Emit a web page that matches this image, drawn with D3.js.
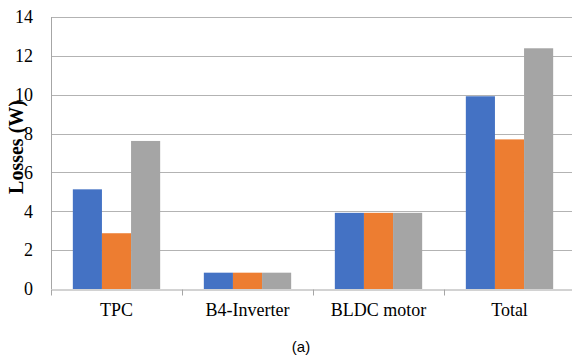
<!DOCTYPE html>
<html>
<head>
<meta charset="utf-8">
<script src="https://cdn.jsdelivr.net/npm/d3@7"></script>
<style>
  body { margin: 0; background: #fff; }
  svg { display: block; }
  .serif { font-family: "Liberation Serif", "Times New Roman", "DejaVu Serif", serif; }
</style>
</head>
<body>
<div id="chart"></div>
<script>
// data
const categories = ["TPC", "B4-Inverter", "BLDC motor", "Total"]
const seriesA = [5.13, 0.84, 3.92, 9.92]
const seriesB = [2.87, 0.84, 3.92, 7.70]
const seriesC = [7.62, 0.84, 3.92, 12.39]
const yTicks = [0, 2, 4, 6, 8, 10, 12, 14]
const colors = ["#4472C4", "#ED7D31", "#A5A5A5"]

const series = [seriesA, seriesB, seriesC]

const dims = {
    width: 572,
    height: 364,
    margin: { top: 17, right: -3, bottom: 75, left: 51 }
}
dims.boundedWidth = dims.width - dims.margin.left - dims.margin.right
dims.boundedHeight = dims.height - dims.margin.top - dims.margin.bottom

const svg = d3.select("#chart")
    .append("svg")
    .attr("width", dims.width)
    .attr("height", dims.height)

const bounds = svg.append("g")
    .attr("transform", `translate(${dims.margin.left},${dims.margin.top})`)

// scales
const xScale = d3.scaleBand()
    .domain(categories)
    .range([0, dims.boundedWidth])

const xInner = d3.scaleBand()
    .domain(d3.range(series.length))
    .range([0, xScale.bandwidth()])
    .paddingInner(0)
    .paddingOuter(0.75)

const yScale = d3.scaleLinear()
    .domain([0, 14])
    .range([dims.boundedHeight, 0])

// gridlines
bounds.append("g")
    .selectAll("line")
    .data(yTicks.filter(d => d > 0))
    .join("line")
    .attr("x1", 0)
    .attr("x2", dims.boundedWidth)
    .attr("y1", d => Math.round(yScale(d)) + 0.5)
    .attr("y2", d => Math.round(yScale(d)) + 0.5)
    .attr("stroke", "#b3b3b3")
    .attr("stroke-width", 1)

// bars
const groups = bounds.append("g")
    .selectAll("g")
    .data(categories)
    .join("g")
    .attr("transform", d => `translate(${xScale(d)},0)`)

groups.selectAll("rect")
    .data((d, i) => series.map((s, j) => ({ j, value: s[i] })))
    .join("rect")
    .attr("x", d => xInner(d.j))
    .attr("width", xInner.bandwidth())
    .attr("y", d => yScale(d.value))
    .attr("height", d => yScale(0) - yScale(d.value))
    .attr("fill", d => colors[d.j])

// y axis
const yAxis = d3.axisLeft(yScale)
    .tickValues(yTicks)
    .tickSize(0)
    .tickPadding(18)
    .tickFormat(d3.format("d"))

const yAxisG = bounds.append("g").call(yAxis)
yAxisG.attr("font-family", null).attr("font-size", null)
yAxisG.select(".domain")
    .attr("stroke", "#a6a6a6")
    .attr("d", `M0.5,0V${dims.boundedHeight}`)
yAxisG.selectAll("text")
    .classed("serif", true)
    .style("font-size", "18px")
    .attr("fill", "#000")

// x axis
const xAxisG = bounds.append("g")
    .attr("transform", `translate(0,${Math.round(dims.boundedHeight) + 0.5})`)
    .call(d3.axisBottom(xScale).tickSize(0).tickPadding(14))
xAxisG.attr("font-family", null).attr("font-size", null)

xAxisG.select(".domain").attr("stroke", "#a6a6a6")
xAxisG.selectAll("text")
    .classed("serif", true)
    .style("font-size", "18px")
    .attr("fill", "#000")

// boundary ticks between categories
xAxisG.append("g")
    .selectAll("line")
    .data(categories)
    .join("line")
    .attr("x1", d => Math.round(xScale(d)) + 0.5)
    .attr("x2", d => Math.round(xScale(d)) + 0.5)
    .attr("y1", 0)
    .attr("y2", 6)
    .attr("stroke", "#a6a6a6")

// y label
svg.append("text")
    .attr("class", "serif")
    .attr("transform", `translate(23,147) rotate(-90)`)
    .attr("text-anchor", "middle")
    .style("font-weight", "bold")
    .style("font-size", "20px")
    .text("Losses (W)")

// caption
svg.append("text")
    .attr("x", 301)
    .attr("y", 352)
    .attr("text-anchor", "middle")
    .style("font-family", "'Liberation Sans', Arial, sans-serif")
    .style("font-size", "15px")
    .text("(a)")
</script>
</body>
</html>
